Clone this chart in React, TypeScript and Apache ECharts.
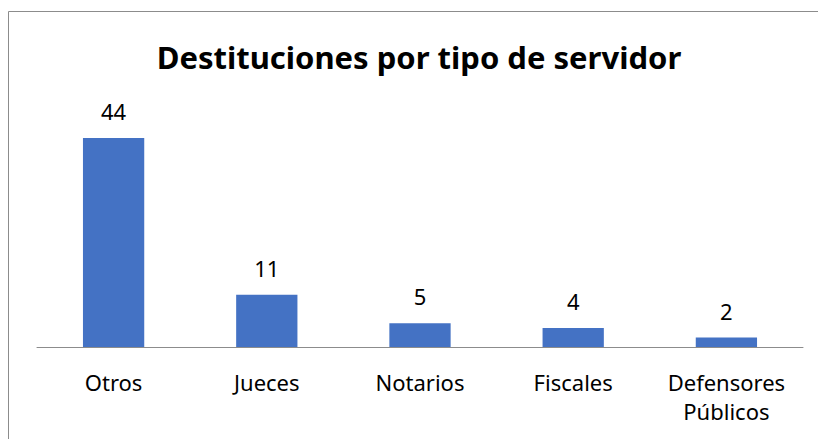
import React, { useEffect, useRef } from "react";
import * as echarts from "echarts";

const categories = ["Otros", "Jueces", "Notarios", "Fiscales", "Defensores\nPúblicos"];
const values = [44, 11, 5, 4, 2];
const titleText = "Destituciones por tipo de servidor";

export default function App() {
  const ref = useRef<HTMLDivElement>(null);
  useEffect(() => {
    const chart = echarts.init(ref.current!, null, { renderer: "svg" });
    const font = "'Noto Sans', sans-serif";
    chart.setOption({
      animation: false,
      backgroundColor: "#ffffff",
      graphic: [
        {
          type: "rect",
          shape: { x: 8.5, y: 11.5, width: 900, height: 500 },
          style: { fill: "none", stroke: "#8c8c8c", lineWidth: 1 },
          silent: true,
        },
        {
          type: "text",
          x: 419,
          y: 57,
          style: {
            text: titleText,
            align: "center",
            verticalAlign: "middle",
            fontFamily: font,
            fontWeight: "bold",
            fontSize: 31,
            fill: "#000000",
          },
          silent: true,
        },
      ],
      grid: { left: 37, right: 15, top: 109.5, bottom: 92, containLabel: false },
      xAxis: {
        type: "category",
        data: categories,
        axisLine: { show: true, lineStyle: { color: "#8c8c8c", width: 1 } },
        axisTick: { show: false },
        axisLabel: {
          fontFamily: font,
          fontSize: 22,
          color: "#000000",
          margin: 20,
          lineHeight: 29,
        },
      },
      yAxis: {
        type: "value",
        min: 0,
        max: 50,
        show: false,
        splitLine: { show: false },
      },
      series: [
        {
          type: "bar",
          data: values,
          barWidth: "40%",
          itemStyle: { color: "#4472C4" },
          label: {
            show: true,
            position: "top",
            distance: 16,
            fontFamily: font,
            fontSize: 22,
            color: "#000000",
          },
        },
      ],
    });
    return () => chart.dispose();
  }, []);
  return (
    <div
      ref={ref}
      style={{ position: "fixed", left: 0, top: 0, width: 818, height: 439 }}
    />
  );
}
